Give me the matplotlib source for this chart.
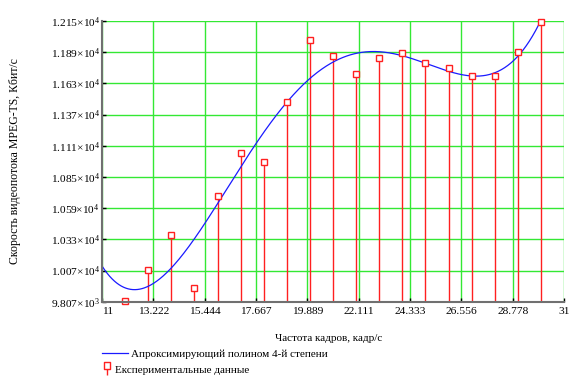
import numpy as np
import matplotlib
matplotlib.use("Agg")
import matplotlib.pyplot as plt
from matplotlib.lines import Line2D
from matplotlib.path import Path

plt.rcParams['font.family'] = ['Liberation Serif', 'DejaVu Serif']
plt.rcParams['mathtext.fontset'] = 'custom'
plt.rcParams['mathtext.rm'] = 'Liberation Serif'
plt.rcParams['mathtext.it'] = 'Liberation Serif'

# Data
fps = [12, 13, 14, 15, 16, 17, 18, 19, 20, 21, 22, 23, 24, 25, 26, 27, 28, 29, 30]
bitrate = [9812, 10069, 10361, 9921, 10692, 11046, 10971, 11471, 11989, 11855,
           11705, 11841, 11880, 11802, 11755, 11693, 11688, 11889, 12144]
x_ticks = [11, 13.222, 15.444, 17.667, 19.889, 22.111, 24.333, 26.556, 28.778, 31]
x_tick_labels = ["11", "13.222", "15.444", "17.667", "19.889", "22.111", "24.333",
                 "26.556", "28.778", "31"]
y_ticks = [9807, 10067.3, 10327.7, 10588, 10848.3, 11108.7, 11369, 11629.3, 11889.7, 12150]
y_tick_labels = [r"$9.807{\times}10^{3}$", r"$1.007{\times}10^{4}$", r"$1.033{\times}10^{4}$",
                 r"$1.059{\times}10^{4}$", r"$1.085{\times}10^{4}$", r"$1.111{\times}10^{4}$",
                 r"$1.137{\times}10^{4}$", r"$1.163{\times}10^{4}$", r"$1.189{\times}10^{4}$",
                 r"$1.215{\times}10^{4}$"]
x_label = "Частота кадров, кадр/с"
y_label = "Скорость видеопотока MPEG-TS, Кбит/с"
legend_fit = "Апроксимирующий полином 4-й степени"
legend_data = "Експериментальные данные"

W, H = 571, 376
fig = plt.figure(figsize=(W / 100, H / 100), dpi=100)
left, right, top, bottom = 102, 564, 21, 301.7
ax = fig.add_axes([left / W, 1 - bottom / H, (right - left) / W, (bottom - top) / H])

ymin, ymax = y_ticks[0], y_ticks[-1]
ax.set_xlim(x_ticks[0], x_ticks[-1])
ax.set_ylim(ymin, ymax)

grid_c = '#33e833'
ax.set_xticks(x_ticks)
ax.set_xticklabels(x_tick_labels, fontsize=8.2)
ax.get_xticklabels()[0].set_horizontalalignment('left')
ax.set_yticks(y_ticks)
ax.set_yticklabels(y_tick_labels, fontsize=8.2)
ax.grid(True, color=grid_c, lw=1.0)
ax.set_axisbelow(True)
ax.tick_params(axis='both', direction='in', length=3, width=1, color='black')
ax.tick_params(axis='x', pad=3.5)
ax.tick_params(axis='y', pad=1.5)

for s in ['top', 'right']:
    ax.spines[s].set_visible(False)
for s in ['left', 'bottom']:
    ax.spines[s].set_color('#707070')
    ax.spines[s].set_linewidth(1.5)
    ax.spines[s].set_zorder(5)

# Polynomial fit (4th degree)
coef = np.polyfit(fps, bitrate, 4)
xs = np.linspace(x_ticks[0], x_ticks[-1], 600)
ax.plot(xs, np.polyval(coef, xs), color='#1a1aff', lw=0.9, zorder=3)

# Stems and markers
ax.vlines(fps, ymin, bitrate, color='#ff2020', lw=1.0, zorder=2)
ax.plot(fps, bitrate, ls='none', marker='s', ms=5, mec='#ff2020', mfc='white',
        mew=1.0, zorder=4, clip_on=False)

ax.set_xlabel(x_label, fontsize=8)
ax.xaxis.set_label_coords(0.49, -0.115)
ax.set_ylabel(y_label, fontsize=8.5)
ax.yaxis.set_label_coords(-0.175, 0.5)

# Legends
h1 = Line2D([], [], color='#1a1aff', lw=0.9)
leg1 = fig.legend([h1], [legend_fit], loc='upper left',
                  bbox_to_anchor=(102 / W, 1 - 349 / H), frameon=False,
                  fontsize=8, handlelength=2.3, handletextpad=0.35, borderpad=0,
                  borderaxespad=0)
stem_marker = Path([(-1, 0), (1, 0), (1, 2), (-1, 2), (-1, 0), (0, 0), (0, -1.6)],
                   [Path.MOVETO, Path.LINETO, Path.LINETO, Path.LINETO, Path.CLOSEPOLY,
                    Path.MOVETO, Path.LINETO])
h2 = Line2D([], [], ls='none', marker=stem_marker, ms=10, mec='#ff2020', mfc='none', mew=1.0)
leg2 = fig.legend([h2], [legend_data], loc='upper left',
                  bbox_to_anchor=(102 / W, 1 - 365 / H), frameon=False,
                  fontsize=8, handlelength=0.9, handletextpad=0.3, borderpad=0,
                  borderaxespad=0)

fig.savefig("out.png", dpi=100)
